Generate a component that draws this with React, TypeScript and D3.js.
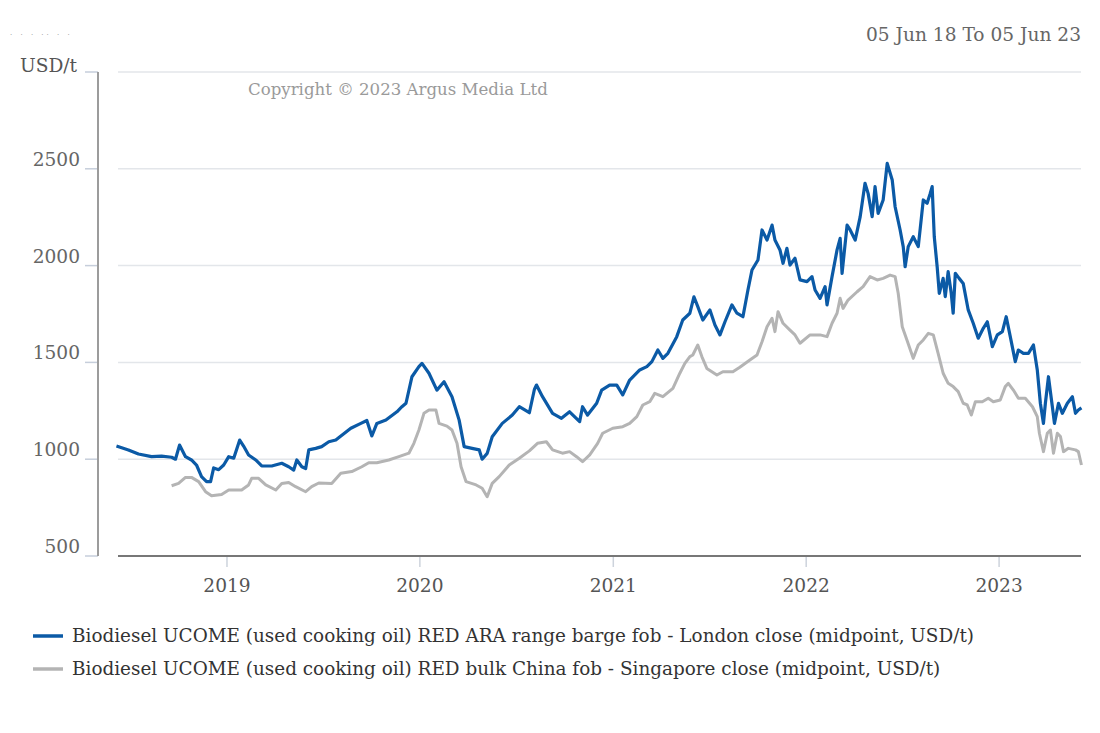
import React from "react";
import * as d3 from "d3";

// decimal-year timestamps and values (USD/t)
const blueT = [
  2018.427, 2018.489, 2018.541, 2018.609, 2018.661, 2018.713, 2018.733, 2018.754, 2018.785, 2018.816,
  2018.842, 2018.868, 2018.894, 2018.915, 2018.931, 2018.957, 2018.983, 2019.009, 2019.035, 2019.066,
  2019.086, 2019.112, 2019.149, 2019.180, 2019.232, 2019.284, 2019.320, 2019.346, 2019.362, 2019.388,
  2019.408, 2019.424, 2019.460, 2019.491, 2019.528, 2019.564, 2019.642, 2019.694, 2019.725, 2019.751,
  2019.777, 2019.824, 2019.881, 2019.907, 2019.928, 2019.959, 2019.995, 2020.011, 2020.047, 2020.088,
  2020.125, 2020.166, 2020.203, 2020.229, 2020.270, 2020.307, 2020.322, 2020.348, 2020.374, 2020.426,
  2020.478, 2020.514, 2020.566, 2020.592, 2020.603, 2020.634, 2020.686, 2020.732, 2020.774, 2020.826,
  2020.841, 2020.867, 2020.914, 2020.940, 2020.981, 2021.018, 2021.049, 2021.085, 2021.137, 2021.174,
  2021.200, 2021.231, 2021.257, 2021.283, 2021.329, 2021.360, 2021.397, 2021.418, 2021.438, 2021.464,
  2021.501, 2021.527, 2021.553, 2021.579, 2021.615, 2021.641, 2021.672, 2021.698, 2021.719, 2021.750,
  2021.771, 2021.797, 2021.823, 2021.838, 2021.864, 2021.880, 2021.900, 2021.916, 2021.942, 2021.968,
  2022.004, 2022.030, 2022.046, 2022.072, 2022.098, 2022.108, 2022.134, 2022.160, 2022.176, 2022.186,
  2022.212, 2022.228, 2022.254, 2022.280, 2022.305, 2022.321, 2022.342, 2022.357, 2022.373, 2022.399,
  2022.420, 2022.446, 2022.461, 2022.487, 2022.503, 2022.513, 2022.529, 2022.555, 2022.581, 2022.596,
  2022.607, 2022.627, 2022.643, 2022.653, 2022.664, 2022.679, 2022.690, 2022.710, 2022.721, 2022.736,
  2022.752, 2022.762, 2022.773, 2022.793, 2022.814, 2022.840, 2022.866, 2022.892, 2022.918, 2022.939,
  2022.965, 2022.991, 2023.017, 2023.037, 2023.058, 2023.084, 2023.100, 2023.126, 2023.152, 2023.178,
  2023.198, 2023.214, 2023.230, 2023.240, 2023.256, 2023.276, 2023.287, 2023.308, 2023.328, 2023.354,
  2023.380, 2023.396, 2023.411, 2023.427,
];
const blueV = [
  1068, 1048, 1027, 1013, 1016, 1010, 1000, 1073, 1013, 996,
  970, 910, 884, 884, 955, 946, 970, 1013, 1005, 1099,
  1068, 1022, 996, 965, 965, 979, 961, 944, 996, 961,
  952, 1048, 1056, 1065, 1090, 1099, 1160, 1185, 1200, 1120,
  1185, 1202, 1245, 1271, 1289, 1426, 1478, 1495, 1444, 1357,
  1400, 1323, 1202, 1065, 1056, 1048, 1000, 1030, 1116, 1185,
  1228, 1271, 1240, 1360, 1383, 1323, 1237, 1211, 1245, 1194,
  1271, 1228, 1289, 1357, 1383, 1383, 1332, 1409, 1461, 1478,
  1504, 1564, 1521, 1547, 1633, 1719, 1754, 1839, 1788, 1719,
  1771, 1693, 1642, 1710, 1797, 1754, 1736, 1874, 1977, 2029,
  2184, 2132, 2209, 2132, 2081, 2012, 2089, 2003, 2038, 1926,
  1917, 1943, 1874, 1831, 1891, 1797, 1943, 2081, 2141, 1960,
  2209, 2184, 2132, 2253, 2425, 2373, 2253, 2408, 2270, 2339,
  2528, 2442, 2304, 2184, 2098, 1994, 2098, 2149, 2098, 2236,
  2339, 2322, 2373, 2408, 2149, 1994, 1857, 1934, 1840, 1969,
  1857, 1754, 1960, 1934, 1908, 1771, 1702, 1625, 1676, 1710,
  1581, 1642, 1659, 1736, 1633, 1504, 1564, 1547, 1547, 1590,
  1461, 1289, 1185, 1289, 1426, 1272, 1185, 1289, 1237, 1289,
  1323, 1237, 1254, 1265,
];

const grayT = [
  2018.713, 2018.749, 2018.785, 2018.816, 2018.853, 2018.889, 2018.920, 2018.972, 2019.009, 2019.076,
  2019.112, 2019.128, 2019.164, 2019.201, 2019.253, 2019.284, 2019.320, 2019.356, 2019.408, 2019.439,
  2019.476, 2019.543, 2019.590, 2019.647, 2019.699, 2019.735, 2019.777, 2019.839, 2019.891, 2019.943,
  2019.969, 2019.995, 2020.021, 2020.047, 2020.083, 2020.099, 2020.140, 2020.166, 2020.192, 2020.213,
  2020.239, 2020.291, 2020.322, 2020.348, 2020.374, 2020.410, 2020.462, 2020.514, 2020.566, 2020.608,
  2020.654, 2020.686, 2020.737, 2020.774, 2020.810, 2020.841, 2020.878, 2020.919, 2020.945, 2020.997,
  2021.049, 2021.085, 2021.122, 2021.153, 2021.189, 2021.215, 2021.257, 2021.309, 2021.345, 2021.371,
  2021.397, 2021.412, 2021.438, 2021.459, 2021.485, 2021.537, 2021.568, 2021.620, 2021.656, 2021.708,
  2021.745, 2021.771, 2021.797, 2021.823, 2021.838, 2021.854, 2021.880, 2021.916, 2021.942, 2021.968,
  2022.020, 2022.072, 2022.108, 2022.134, 2022.160, 2022.176, 2022.191, 2022.217, 2022.264, 2022.295,
  2022.331, 2022.368, 2022.399, 2022.435, 2022.461, 2022.477, 2022.498, 2022.524, 2022.555, 2022.581,
  2022.607, 2022.633, 2022.659, 2022.684, 2022.710, 2022.736, 2022.762, 2022.788, 2022.814, 2022.835,
  2022.856, 2022.877, 2022.913, 2022.944, 2022.970, 2023.006, 2023.032, 2023.048, 2023.074, 2023.100,
  2023.136, 2023.173, 2023.198, 2023.209, 2023.230, 2023.250, 2023.266, 2023.282, 2023.302, 2023.318,
  2023.334, 2023.359, 2023.396, 2023.411, 2023.427,
];
const grayV = [
  863, 875, 906, 906, 884, 832, 811, 818, 841, 841,
  867, 901, 901, 867, 841, 875, 880, 858, 832, 858,
  877, 875, 927, 936, 961, 982, 982, 996, 1013, 1031,
  1082, 1151, 1237, 1254, 1254, 1185, 1171, 1151, 1082, 961,
  884, 867, 850, 806, 875, 910, 970, 1005, 1043, 1082,
  1090, 1048, 1031, 1039, 1013, 987, 1022, 1082, 1134, 1160,
  1168, 1185, 1220, 1280, 1297, 1340, 1323, 1366, 1444, 1495,
  1530, 1538, 1590, 1530, 1469, 1435, 1452, 1452, 1475, 1512,
  1538, 1607, 1684, 1728, 1659, 1762, 1702, 1667, 1642, 1599,
  1642, 1642, 1633, 1702, 1754, 1831, 1779, 1822, 1865, 1891,
  1943, 1926, 1934, 1951, 1943, 1857, 1684, 1610, 1521, 1590,
  1616, 1650, 1642, 1547, 1444, 1392, 1375, 1349, 1289, 1280,
  1228, 1297, 1297, 1315, 1297, 1306, 1375, 1392, 1357, 1315,
  1315, 1271, 1220, 1134, 1039, 1134, 1151, 1031, 1134, 1117,
  1039, 1056, 1048, 1039, 970,
];

const yTicks = [500, 1000, 1500, 2000, 2500];
const yTickMarks = [500, 1000, 1500, 2000, 2500, 3000];
const gridValues = [1000, 1500, 2000, 2500, 3000];
const yearTicks = [2019, 2020, 2021, 2022, 2023];
const seriesNames = [
  "Biodiesel UCOME (used cooking oil) RED ARA range barge fob - London close (midpoint, USD/t)",
  "Biodiesel UCOME (used cooking oil) RED bulk China fob - Singapore close (midpoint, USD/t)",
];
const seriesColors = ["#0b5aa6", "#b4b4b4"];

function decToDate(t: number): Date {
  const y = Math.floor(t);
  const a = new Date(y, 0, 1).getTime();
  const b = new Date(y + 1, 0, 1).getTime();
  return new Date(a + (t - y) * (b - a));
}

const FONT = "'DejaVu Serif', serif";
const FS = 18.6;

export default function App() {
  const x = d3
    .scaleTime()
    .domain([new Date(2018, 5, 5), new Date(2023, 5, 5)])
    .range([116, 1081]);
  const y = d3.scaleLinear().domain([500, 3000]).range([556, 72]);

  const line = d3
    .line<[number, number]>()
    .x((d) => x(decToDate(d[0])))
    .y((d) => y(d[1]));

  const blue = blueT.map((t, i) => [t, blueV[i]] as [number, number]);
  const gray = grayT.map((t, i) => [t, grayV[i]] as [number, number]);

  return (
    <svg
      width={1100}
      height={733}
      style={{ position: "absolute", left: 0, top: 0, background: "#fff" }}
      fontFamily={FONT}
    >
      <rect width={1100} height={733} fill="#fff" />
      <text x={10} y={37} fontSize={7} fill="#999" letterSpacing={3}>
        {"· · · ·· · ·"}
      </text>
      <text x={1081} y={41} fontSize={FS} fill="#666" textAnchor="end">
        05 Jun 18 To 05 Jun 23
      </text>
      <text x={20} y={72} fontSize={FS} fill="#555">
        USD/t
      </text>

      {gridValues.map((v) => (
        <line key={v} x1={118} x2={1081} y1={y(v)} y2={y(v)} stroke="#e3e6ea" strokeWidth={1.5} />
      ))}

      <text x={248} y={95} fontSize={16.6} fill="#9a9a9a">
        Copyright © 2023 Argus Media Ltd
      </text>

      {/* y axis */}
      {yTickMarks.map((v) => (
        <line key={v} x1={85} x2={98} y1={y(v)} y2={y(v)} stroke="#c6cedb" strokeWidth={1.5} />
      ))}
      <line x1={98} x2={98} y1={y(3000)} y2={y(500)} stroke="#9c9c9c" strokeWidth={2} />
      {yTicks.map((v) => (
        <text key={v} x={80} y={y(v) - 3} fontSize={FS} fill="#666" textAnchor="end">
          {v}
        </text>
      ))}

      {/* x axis */}
      {yearTicks.map((yr) => {
        const xx = x(new Date(yr, 0, 1));
        return (
          <g key={yr}>
            <line x1={xx} x2={xx} y1={556} y2={567} stroke="#cdd3dc" strokeWidth={1.5} />
            <text x={xx} y={592} fontSize={FS} fill="#555" textAnchor="middle">
              {yr}
            </text>
          </g>
        );
      })}

      <path d={line(gray) || ""} fill="none" stroke={seriesColors[1]} strokeWidth={3} strokeLinejoin="round" />
      <path d={line(blue) || ""} fill="none" stroke={seriesColors[0]} strokeWidth={3.2} strokeLinejoin="round" />

      <line x1={118} x2={1081} y1={556} y2={556} stroke="#777" strokeWidth={2} />

      {seriesNames.map((n, i) => (
        <g key={n}>
          <line x1={33} x2={63} y1={636 + i * 33} y2={636 + i * 33} stroke={seriesColors[i]} strokeWidth={3.5} />
          <text x={72} y={642 + i * 33} fontSize={18.4} fill="#333">
            {n}
          </text>
        </g>
      ))}
    </svg>
  );
}
